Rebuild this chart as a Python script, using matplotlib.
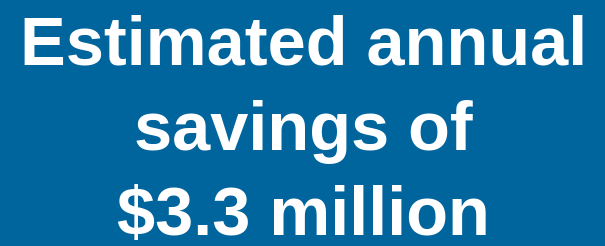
import matplotlib
matplotlib.use("Agg")
import matplotlib.pyplot as plt

# text lines of the banner
lines = ["Estimated annual", "savings of", "$3.3 million"]
baselines_px = [64, 150, 235]

bg = "#01659D"

fig = plt.figure(figsize=(6.05, 2.46), dpi=100)
fig.patch.set_facecolor(bg)

for txt, b in zip(lines, baselines_px):
    fig.text(0.502, 1 - b / 246, txt, ha="center", va="baseline",
             color="white", fontsize=49.3, fontweight="bold",
             family=["Liberation Sans", "DejaVu Sans"])

fig.savefig("out.png", dpi=100, facecolor=bg)
